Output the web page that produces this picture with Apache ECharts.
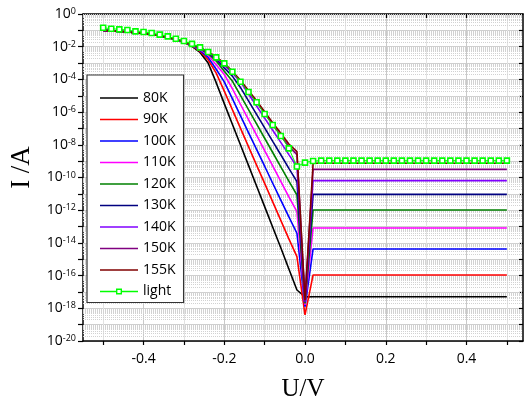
<!DOCTYPE html>
<html>
<head>
<meta charset="utf-8">
<script src="https://cdn.jsdelivr.net/npm/echarts@6.0.0/dist/echarts.min.js"></script>
<style>
  html, body { margin: 0; padding: 0; background: #fff; }
  #chart { width: 525px; height: 399px; }
</style>
</head>
<body>
<div id="chart"></div>
<script>
// bias voltage sweep for the temperature curves (V)
const voltSweep = [-0.50, -0.48, -0.46, -0.44, -0.42, -0.40, -0.38, -0.36, -0.34, -0.32, -0.30,
  -0.28, -0.26, -0.24, -0.22, -0.20, -0.18, -0.16, -0.14, -0.12, -0.10, -0.08, -0.06, -0.04, -0.02,
  0.00, 0.02, 0.50];

// current, stored as log10(I/A)
const exp80K  = [-1.00, -1.03, -1.06, -1.10, -1.14, -1.19, -1.25, -1.33, -1.44, -1.58, -1.75,
  -1.98, -2.35, -3.00, -4.20, -5.48, -6.74, -8.00, -9.26, -10.52, -11.78, -13.04, -14.30, -15.60, -16.88,
  -17.30, -17.29, -17.29];
const exp90K  = [-1.00, -1.03, -1.06, -1.10, -1.14, -1.19, -1.25, -1.33, -1.43, -1.57, -1.73,
  -1.95, -2.28, -2.80, -3.62, -4.72, -5.85, -6.98, -8.11, -9.24, -10.36, -11.49, -12.62, -13.75, -14.84,
  -18.40, -15.96, -15.96];
const exp100K = [-1.00, -1.03, -1.06, -1.10, -1.14, -1.19, -1.25, -1.33, -1.43, -1.56, -1.72,
  -1.93, -2.22, -2.65, -3.38, -4.15, -5.18, -6.22, -7.25, -8.28, -9.31, -10.35, -11.38, -12.41, -13.41,
  -17.90, -14.37, -14.37];
const exp110K = [-1.00, -1.03, -1.06, -1.10, -1.14, -1.19, -1.25, -1.33, -1.43, -1.56, -1.71,
  -1.91, -2.17, -2.52, -3.10, -3.70, -4.57, -5.52, -6.46, -7.41, -8.35, -9.29, -10.24, -11.18, -12.09,
  -17.80, -13.09, -13.09];
const exp120K = [-1.00, -1.03, -1.06, -1.10, -1.14, -1.19, -1.25, -1.33, -1.43, -1.55, -1.70,
  -1.90, -2.13, -2.43, -2.88, -3.50, -4.10, -4.98, -5.85, -6.72, -7.60, -8.47, -9.35, -10.22, -11.07,
  -17.70, -11.99, -11.99];
const exp130K = [-1.00, -1.03, -1.06, -1.10, -1.14, -1.19, -1.25, -1.33, -1.43, -1.55, -1.70,
  -1.89, -2.10, -2.38, -2.76, -3.30, -3.80, -4.49, -5.31, -6.14, -6.96, -7.79, -8.61, -9.44, -10.25,
  -17.60, -11.03, -11.03];
const exp140K = [-1.00, -1.03, -1.06, -1.10, -1.14, -1.19, -1.25, -1.33, -1.43, -1.55, -1.69,
  -1.89, -2.08, -2.34, -2.68, -3.15, -3.60, -4.15, -4.89, -5.63, -6.37, -7.11, -7.85, -8.60, -9.34,
  -17.60, -10.19, -10.19];
const exp150K = [-1.00, -1.03, -1.06, -1.10, -1.14, -1.19, -1.25, -1.33, -1.43, -1.55, -1.69,
  -1.88, -2.06, -2.32, -2.66, -3.08, -3.55, -4.08, -4.75, -5.40, -6.08, -6.78, -7.45, -8.10, -8.60,
  -17.50, -9.50, -9.50];
const exp155K = [-1.00, -1.03, -1.06, -1.10, -1.14, -1.19, -1.25, -1.33, -1.43, -1.54, -1.68,
  -1.88, -2.06, -2.30, -2.63, -3.00, -3.50, -4.05, -4.68, -5.30, -5.98, -6.65, -7.30, -7.95, -8.42,
  -17.50, -9.13, -9.13];

// the "light" curve is sampled every 0.02 V over the whole sweep
const voltLight = [-0.50, -0.48, -0.46, -0.44, -0.42, -0.40, -0.38, -0.36, -0.34, -0.32, -0.30,
  -0.28, -0.26, -0.24, -0.22, -0.20, -0.18, -0.16, -0.14, -0.12, -0.10, -0.08, -0.06, -0.04, -0.02,
  0.00, 0.02, 0.04, 0.06, 0.08, 0.10, 0.12, 0.14, 0.16, 0.18, 0.20, 0.22, 0.24, 0.26, 0.28, 0.30,
  0.32, 0.34, 0.36, 0.38, 0.40, 0.42, 0.44, 0.46, 0.48, 0.50];
const expLight = [-0.84, -0.90, -0.94, -0.98, -1.06, -1.10, -1.16, -1.26, -1.37, -1.51, -1.65,
  -1.83, -2.04, -2.32, -2.65, -3.02, -3.53, -4.14, -4.77, -5.40, -6.12, -6.79, -7.46, -8.22, -9.33,
  -9.09, -8.99, -8.97, -8.97, -8.97, -8.97, -8.97, -8.97, -8.97, -8.97, -8.97, -8.97, -8.97, -8.97,
  -8.97, -8.97, -8.97, -8.97, -8.97, -8.97, -8.97, -8.97, -8.97, -8.97, -8.97, -8.97];

const seriesNames = ['80K', '90K', '100K', '110K', '120K', '130K', '140K', '150K', '155K', 'light'];
const seriesColors = ['#000000', '#ff0000', '#0000ff', '#ff00ff', '#008000', '#000080', '#8000ff', '#800080', '#800000', '#00ff00'];
const tempExps = [exp80K, exp90K, exp100K, exp110K, exp120K, exp130K, exp140K, exp150K, exp155K];

// tick positions
const xTickValues = [-0.5, -0.4, -0.3, -0.2, -0.1, 0, 0.1, 0.2, 0.3, 0.4, 0.5];
const xLabelValues = [-0.4, -0.2, 0, 0.2, 0.4];
const yDecadeExps = [-20, -19, -18, -17, -16, -15, -14, -13, -12, -11, -10, -9, -8, -7, -6, -5, -4, -3, -2, -1, 0];
const yLabelExps = [-20, -18, -16, -14, -12, -10, -8, -6, -4, -2, 0];

const toI = (e) => Math.pow(10, e);

// dotted minor grid at 2..9 x each decade
const minorGrid = [];
yDecadeExps.slice(0, -1).forEach((e) => {
  for (let m = 2; m <= 9; m++) minorGrid.push({ yAxis: m * toI(e) });
});

// legend glyphs: plain line, and line with an open square for "light"
const lineIcon = 'path://M0,0 H38 V1.6 H0 Z';
const lightIcon = 'path://M0,2.3 H16 V0 H22 V2.3 H38 V3.7 H22 V6 H16 V3.7 H0 Z M17.4,1.4 V4.6 H20.6 V1.4 Z';

const series = tempExps.map((exps, i) => ({
  name: seriesNames[i],
  type: 'line',
  data: voltSweep.map((u, j) => [u, toI(exps[j])]),
  symbol: 'none',
  lineStyle: { color: seriesColors[i], width: 1.6 },
  itemStyle: { color: seriesColors[i] },
  emphasis: { disabled: true },
  z: 3 + i,
}));

series[0].markLine = {
  silent: true,
  precision: 20,
  symbol: ['none', 'none'],
  label: { show: false },
  lineStyle: { type: 'dotted', color: '#d2d2d2', width: 1 },
  emphasis: { disabled: true },
  z: 1,
  data: minorGrid,
};

series.push({
  name: 'light',
  type: 'line',
  data: voltLight.map((u, j) => [u, toI(expLight[j])]),
  symbol: 'rect',
  symbolSize: 5,
  lineStyle: { color: '#00ff00', width: 1 },
  itemStyle: { color: '#ffffff', borderColor: '#00ff00', borderWidth: 1.6 },
  emphasis: { disabled: true },
  z: 20,
});

const legendData = seriesNames.map((n, i) => (i < 9
  ? { name: n, icon: lineIcon }
  : { name: n, icon: lightIcon, itemStyle: { color: '#00ff00', borderWidth: 0 } }));

const chart = echarts.init(document.getElementById('chart'), null, { renderer: 'canvas' });

const axisBlack = { color: '#000', width: 1.5 };

chart.setOption({
  animation: false,
  backgroundColor: '#fff',
  textStyle: { fontFamily: 'Open Sans' },
  grid: { left: 83, right: 2, top: 14, bottom: 58, containLabel: false, outerBoundsMode: 'none' },
  legend: {
    orient: 'vertical',
    left: 87,
    top: 75,
    padding: [16, 8, 4, 13],
    itemWidth: 38,
    itemHeight: 14,
    itemGap: 7.5,
    symbolKeepAspect: true,
    backgroundColor: '#fff',
    borderColor: '#333',
    borderWidth: 1.2,
    borderRadius: 0,
    textStyle: { fontSize: 14, color: '#000', fontFamily: 'Open Sans' },
    data: legendData,
  },
  xAxis: [
    {
      type: 'value',
      position: 'bottom',
      min: -0.55,
      max: 0.54,
      name: 'U/V',
      nameLocation: 'middle',
      nameGap: 36,
      nameTextStyle: { fontFamily: 'Liberation Serif', fontSize: 25, color: '#000' },
      axisLine: { show: true, onZero: false, lineStyle: axisBlack },
      axisTick: { show: true, customValues: xTickValues, length: 4, lineStyle: { color: '#000', width: 1.2 } },
      axisLabel: {
        customValues: xLabelValues,
        fontSize: 14,
        color: '#000',
        margin: 11,
        formatter: (v) => v.toFixed(1),
      },
      splitLine: { show: true, lineStyle: { color: ['#e2e2e2', '#c9c9c9'], width: 1 } },
    },
    {
      type: 'value',
      position: 'top',
      min: -0.55,
      max: 0.54,
      axisLine: { show: true, onZero: false, lineStyle: axisBlack },
      axisTick: { show: true, inside: true, customValues: xTickValues, length: 4, lineStyle: { color: '#000', width: 1.2 } },
      axisLabel: { show: false },
      splitLine: { show: false },
    },
  ],
  yAxis: [
    {
      type: 'log',
      logBase: 10,
      position: 'left',
      min: toI(-20),
      max: toI(0),
      name: 'I /A',
      nameLocation: 'middle',
      nameGap: 45,
      nameTextStyle: { fontFamily: 'Liberation Serif', fontSize: 27, color: '#000', padding: [0, 0, 0, 20] },
      axisLine: { show: true, onZero: false, lineStyle: axisBlack },
      axisTick: { show: true, customValues: yDecadeExps.map(toI), length: 5, lineStyle: { color: '#000', width: 1.2 } },
      axisLabel: {
        customValues: yLabelExps.map(toI),
        margin: 7,
        formatter: (v) => '{b|10}{s|' + Math.round(Math.log10(v)) + '}',
        rich: {
          b: { fontSize: 14, color: '#000', fontFamily: 'Open Sans' },
          s: { fontSize: 9, color: '#000', fontFamily: 'Open Sans', verticalAlign: 'top' },
        },
      },
      splitLine: { show: true, lineStyle: { color: '#cfcfcf', width: 1 } },
    },
    {
      type: 'log',
      logBase: 10,
      position: 'right',
      min: toI(-20),
      max: toI(0),
      axisLine: { show: true, onZero: false, lineStyle: axisBlack },
      axisTick: { show: true, inside: true, customValues: yDecadeExps.map(toI), length: 4, lineStyle: { color: '#000', width: 1.2 } },
      axisLabel: { show: false },
      splitLine: { show: false },
    },
  ],
  series: series,
});
</script>
</body>
</html>
